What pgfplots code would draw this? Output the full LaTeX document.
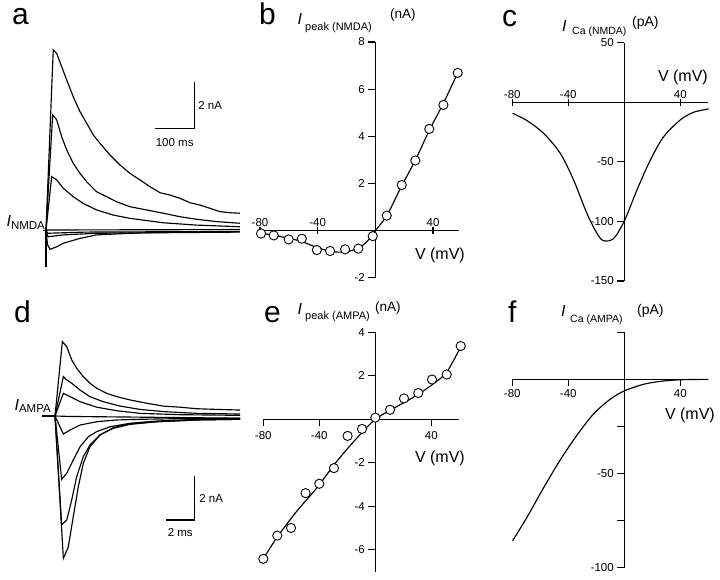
\documentclass[border=0pt]{standalone}
\usepackage{fontspec}
\setmainfont{Liberation Sans}
\setsansfont{Liberation Sans}
\usepackage{pgfplots}
\pgfplotsset{compat=1.18}
\newcommand{\fs}[1]{\fontsize{#1}{#1}\selectfont}
\pgfplotsset{
  iv/.style={scale only axis, axis lines=middle, axis line style={-, line width=1.1pt},
    every tick/.style={black, line width=1.1pt}, major tick length=7pt,
    tick label style={font=\fs{11.5}}, clip=false, anchor=south west},
  trace/.style={scale only axis, hide axis, clip=false, anchor=south west},
  tr/.style={black, line width=1.15pt, no marks},
  pts/.style={only marks, mark=*, mark size=4.6pt, mark options={fill=white, draw=black, line width=0.9pt}},
}
\begin{document}
\begin{tikzpicture}
\path[use as bounding box] (0pt,0pt) rectangle (720pt,579pt);

% ---- a: NMDA currents
\begin{axis}[trace, at={(38.1pt,301.7pt)}, width=204.7pt, height=233pt,
  xmin=-20, xmax=500, ymin=-2, ymax=8]
\addplot[tr] coordinates {(-8.4,0) (0,0) (0,-1.55)};
\addplot[tr] coordinates {(0,0) (18.5,7.76) (27.2,7.61) (39.9,7.04) (52.6,6.47) (69.3,5.75) (86.4,5.11) (103.4,4.61) (120.1,4.11) (137.2,3.75) (162.6,3.25) (188,2.82) (213.4,2.46) (238.8,2.18) (264.2,1.89) (289.6,1.63) (315,1.53) (340.4,1.39) (365.8,1.2) (391.2,1.1) (416.6,0.96) (442,0.82) (467.4,0.77) (492.8,0.75)};
\addplot[tr] coordinates {(0,0) (17,4.97) (27.2,4.76) (39.9,4.03) (52.6,3.47) (69.3,2.89) (86.4,2.46) (103.4,2.1) (128.8,1.67) (154.2,1.46) (179.6,1.24) (213.4,1.03) (255.7,0.89) (298,0.75) (340.4,0.6) (382.8,0.49) (433.6,0.39) (492.8,0.32)};
\addplot[tr] coordinates {(0,0) (14.5,2.32) (27.2,2.18) (43.9,1.82) (69.3,1.46) (94.7,1.17) (128.8,0.89) (171,0.67) (213.4,0.53) (298,0.34) (382.8,0.24) (492.8,0.17)};
\addplot[tr] coordinates {(0,0) (4,-0.6) (10.2,-0.8) (27.2,-0.69) (43.9,-0.54) (86.4,-0.33) (128.8,-0.18) (213.4,-0.11) (298,-0.07) (492.8,-0.04)};
\addplot[tr] coordinates {(0,0) (5,-0.26) (43.9,-0.18) (128.8,-0.11) (492.8,-0.06)};
\addplot[tr] coordinates {(0,0) (5,-0.11) (100,-0.06) (492.8,-0.03)};
\addplot[tr] coordinates {(0,0) (5,0.03) (492.8,0.05)};
\addplot[tr] coordinates {(276.9,4.39) (376.7,4.39) (376.7,6.39)};
\node[anchor=west, font=\fs{11.5}] at (axis cs:378,5.39) {2 nA};
\node[anchor=north, font=\fs{11.5}] at (axis cs:327,4.1) {100 ms};
\node[anchor=base east, inner sep=0pt] at (axis cs:-1,0.16) {\fs{16}\itshape I\upshape\textsubscript{\fs{11.5}NMDA}};
\end{axis}

% ---- b: peak NMDA I-V
\begin{axis}[iv, at={(260pt,301.4pt)}, width=199pt, height=235.6pt,
  xmin=-80, xmax=58, ymin=-2, ymax=8,
  xtick={-80,-40,40}, xticklabels={-80,-40,40},
  ytick={-2,2,4,6,8}, yticklabels={-2,2,4,6,8},
  xtick align=center, ytick align=outside,
  xticklabel style={anchor=south, yshift=4pt}]
\addplot[tr, smooth] coordinates {(-79.3,-0.12) (-70.5,-0.2) (-60.1,-0.33) (-51,-0.47) (-40.6,-0.72) (-31.4,-0.88) (-25,-0.92) (-19,-0.89) (-11.8,-0.75) (-6,-0.48) (-1.8,-0.15) (0,0) (7.9,0.63) (18.3,1.9) (27.7,2.98) (37.4,4.25) (47.2,5.4) (57.1,6.69)};
\addplot[pts] coordinates {(-79.3,-0.13) (-70.5,-0.21) (-60.1,-0.38) (-51,-0.35) (-40.6,-0.83) (-31.4,-0.87) (-21,-0.8) (-11.8,-0.77) (-1.8,-0.24) (7.9,0.63) (18.3,1.93) (27.7,2.97) (37.4,4.31) (47.2,5.33) (57.1,6.69)};
\end{axis}

% ---- c: NMDA Ca current
\begin{axis}[iv, at={(512.3pt,298pt)}, width=196pt, height=238.3pt,
  xmin=-80, xmax=60, ymin=-150, ymax=50,
  xtick={-80,-40,40}, xticklabels={-80,-40,40},
  ytick={-150,-100,-50,50}, yticklabels={-150,-100,-50,50},
  xtick align=center, ytick align=outside,
  xticklabel style={anchor=south, yshift=4pt}]
\addplot[tr, smooth] coordinates {(-79.8,-9.2) (-69.5,-15.4) (-57.6,-26.1) (-45.7,-42.9) (-36.2,-65.3) (-26.7,-93.3) (-19.5,-110.1) (-14.8,-116.2) (-7.6,-114.3) (0,-99.7) (9,-73.7) (18.6,-48.5) (28.1,-28.9) (40,-14.8) (49.5,-8.4) (60.2,-5.6)};
\end{axis}

% ---- d: AMPA currents
\begin{axis}[trace, at={(26.7pt,9pt)}, width=215.1pt, height=242pt,
  xmin=-2, xmax=13.2, ymin=-7, ymax=4]
\addplot[tr] coordinates {(-0.94,0) (0,0)};
\addplot[tr] coordinates {(0,0) (0.52,3.38) (0.83,3.15) (1.18,2.55) (1.53,2.17) (2.0,1.79) (2.47,1.49) (2.95,1.26) (3.65,1.03) (4.36,0.88) (5.3,0.73) (6.48,0.58) (7.66,0.45) (8.84,0.40) (10.02,0.33) (11.43,0.30) (13.08,0.27)};
\addplot[tr] coordinates {(0,0) (0.59,1.79) (0.83,1.64) (1.18,1.49) (1.77,1.18) (2.47,0.88) (3.41,0.65) (4.6,0.45) (6.01,0.30) (7.66,0.2) (10.02,0.12) (13.08,0.09)};
\addplot[tr] coordinates {(0,0) (0.59,1.03) (1.06,0.88) (1.77,0.65) (2.95,0.40) (4.36,0.24) (6.01,0.12) (8.84,0.06) (13.08,0.03)};
\addplot[tr] coordinates {(0,0) (1,-0.02) (13.08,-0.1)};
\addplot[tr] coordinates {(0,0) (0.59,-0.82) (1.06,-0.64) (1.77,-0.41) (2.95,-0.26) (4.36,-0.18) (6.01,-0.15) (8.84,-0.12) (13.08,-0.1)};
\addplot[tr] coordinates {(0,0) (0.47,-2.88) (0.83,-2.6) (1.29,-2.0) (1.77,-1.4) (2.36,-0.94) (2.95,-0.71) (3.89,-0.49) (5.3,-0.33) (7.19,-0.23) (10.02,-0.15) (13.08,-0.12)};
\addplot[tr] coordinates {(0,0) (0.47,-4.95) (0.83,-4.73) (1.18,-3.82) (1.53,-2.76) (2.0,-1.85) (2.47,-1.32) (3.18,-0.86) (4.12,-0.56) (5.3,-0.38) (7.19,-0.26) (10.02,-0.18) (13.08,-0.15)};
\addplot[tr] coordinates {(0,0) (0.59,-6.47) (0.94,-5.95) (1.29,-4.58) (1.65,-3.21) (2.0,-2.15) (2.47,-1.4) (3.18,-0.86) (4.12,-0.53) (5.3,-0.36) (7.19,-0.26) (10.02,-0.18) (13.08,-0.15)};
\addplot[tr] coordinates {(7.85,-4.73) (9.85,-4.73) (9.85,-2.73)};
\node[anchor=west, font=\fs{11.5}] at (axis cs:9.95,-3.73) {2 nA};
\node[anchor=north, font=\fs{11.5}] at (axis cs:8.85,-4.95) {2 ms};
\node[anchor=base east, inner sep=0pt] at (axis cs:-0.25,0.27) {\fs{16}\itshape I\upshape\textsubscript{\fs{11.5}AMPA}};
\end{axis}

% ---- e: peak AMPA I-V
\begin{axis}[iv, at={(263.3pt,7.3pt)}, width=196pt, height=239.4pt,
  xmin=-80, xmax=60, ymin=-7, ymax=4,
  xtick={-80,-40,40}, xticklabels={-80,-40,40},
  ytick={-6,-4,-2,2,4}, yticklabels={-6,-4,-2,2,4},
  tick align=outside, xticklabel style={yshift=-2pt}]
\addplot[tr, smooth] coordinates {(-80,-6.41) (-70.5,-5.45) (-56.2,-4.23) (-41.9,-3.16) (-27.6,-1.94) (-13.3,-0.87) (0,0) (15.2,0.58) (29.5,1.1) (41.4,1.63) (51,2.17) (61,3.33)};
\addplot[pts] coordinates {(-80,-6.41) (-70,-5.34) (-60.2,-4.99) (-49.8,-3.39) (-40,-2.96) (-29.5,-2.24) (-19.8,-0.76) (-9.5,-0.44) (0,0.08) (10.5,0.44) (20.5,0.96) (30.7,1.21) (40.5,1.83) (51,2.06) (61,3.37)};
\end{axis}

% ---- f: AMPA Ca current
\begin{axis}[iv, at={(512.3pt,11.3pt)}, width=196pt, height=235.4pt,
  xmin=-80, xmax=60, ymin=-100, ymax=25,
  xtick={-80,-40,40}, xticklabels={-80,-40,40},
  ytick={-100,-75,-50,-25,25}, yticklabels={-100,,-50,,},
  tick align=outside]
\addplot[tr, smooth] coordinates {(-79.8,-85.7) (-69.5,-73.2) (-57.6,-57.5) (-45.7,-42.7) (-33.8,-29.6) (-21.9,-18.3) (-10,-10.5) (0,-6.1) (13.8,-2.6) (25.7,-1.05) (40,-0.2) (60,0)};
\end{axis}

% panel letters
\node[anchor=base west, inner sep=0pt, font=\fs{30}] at (12pt,554pt) {a};
\node[anchor=base west, inner sep=0pt, font=\fs{30}] at (259pt,554pt) {b};
\node[anchor=base west, inner sep=0pt, font=\fs{30}] at (502pt,552pt) {c};
\node[anchor=base west, inner sep=0pt, font=\fs{30}] at (14pt,256pt) {d};
\node[anchor=base west, inner sep=0pt, font=\fs{30}] at (264pt,257pt) {e};
\node[anchor=base west, inner sep=0pt, font=\fs{30}] at (508pt,256pt) {f};

% axis titles
\node[anchor=base west, inner sep=0pt, font=\fs{16}\itshape] at (297.5pt,554pt) {I};
\node[anchor=base west, inner sep=0pt, font=\fs{11}] at (305pt,548pt) {peak (NMDA)};
\node[anchor=base west, inner sep=0pt, font=\fs{13.5}] at (390pt,560pt) {(nA)};
\node[anchor=base east, inner sep=0pt, font=\fs{16}] at (465pt,319pt) {V (mV)};

\node[anchor=base west, inner sep=0pt, font=\fs{16}\itshape] at (562pt,547pt) {I};
\node[anchor=base west, inner sep=0pt, font=\fs{10.5}] at (572pt,544pt) {Ca (NMDA)};
\node[anchor=base west, inner sep=0pt, font=\fs{14}] at (632pt,552pt) {(pA)};
\node[anchor=base east, inner sep=0pt, font=\fs{16}] at (708pt,497pt) {V (mV)};

\node[anchor=base west, inner sep=0pt, font=\fs{16}\itshape] at (297.5pt,264pt) {I};
\node[anchor=base west, inner sep=0pt, font=\fs{11}] at (305pt,259pt) {peak (AMPA)};
\node[anchor=base west, inner sep=0pt, font=\fs{13.5}] at (375pt,267pt) {(nA)};
\node[anchor=base east, inner sep=0pt, font=\fs{16}] at (465pt,117pt) {V (mV)};

\node[anchor=base west, inner sep=0pt, font=\fs{16}\itshape] at (561pt,262pt) {I};
\node[anchor=base west, inner sep=0pt, font=\fs{10.5}] at (570pt,257pt) {Ca (AMPA)};
\node[anchor=base west, inner sep=0pt, font=\fs{14}] at (637pt,264.5pt) {(pA)};
\node[anchor=base east, inner sep=0pt, font=\fs{16}] at (715pt,160pt) {V (mV)};
\end{tikzpicture}
\end{document}
